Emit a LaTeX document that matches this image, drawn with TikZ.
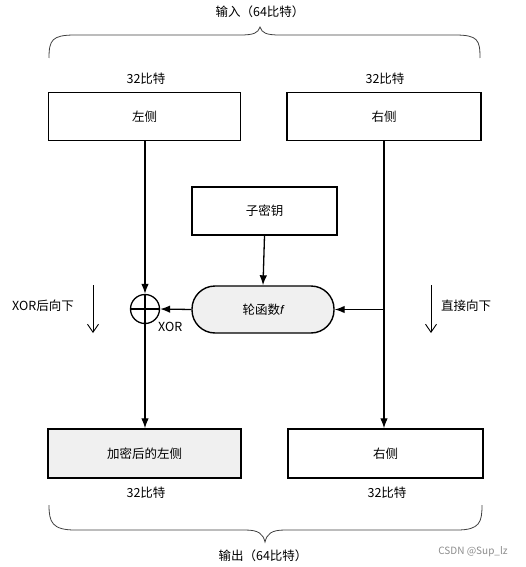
\documentclass[tikz,border=0pt]{standalone}
\usepackage{fontspec}
\setmainfont{Noto Sans CJK SC}
\newfontfamily\latfont{Liberation Sans}
\usetikzlibrary{arrows.meta}
\begin{document}
\begin{tikzpicture}[x=1pt,y=-1pt,
  font=\fontsize{12.5}{14}\selectfont,
  box/.style={draw,line width=1.4pt,inner sep=0pt},
  conn/.style={line width=1.3pt,-{Latex[length=10pt,width=7.5pt]}},
  plain/.style={line width=1.3pt},
  lbl/.style={inner sep=1pt},
  brace/.style={line width=0.8pt,draw=black!75},
  sidearrow/.style={line width=0.9pt,-{Straight Barb[length=8pt,width=11pt]}},
  tex/.style={fill=black!6}]
\useasboundingbox (0,0) rectangle (526,567);
% labels
\node[lbl] (inlbl) at (260,12) {输入（64比特）};
\node[lbl] (outlbl) at (263,556) {输出（64比特）};
\node[lbl] (b1) at (146,79) {32比特};
\node[lbl] (b2) at (385,79) {32比特};
\node[lbl] (b3) at (146,493) {32比特};
\node[lbl] (b4) at (387,493) {32比特};
% boxes
\node[box,minimum width=192pt,minimum height=48pt] (L) at (144.5,116.5) {左侧};
\node[box,minimum width=194pt,minimum height=48pt] (R) at (384,116.5) {右侧};
\node[box,minimum width=145pt,minimum height=48pt] (K) at (264.5,211) {子密钥};
\node[box,tex,minimum width=142pt,minimum height=47pt,rounded corners=23pt] (F) at (263,309.5) {轮函数{\latfont\itshape f}};
\node[box,tex,minimum width=193pt,minimum height=49pt] (EL) at (144.5,453.5) {加密后的左侧};
\node[box,minimum width=195pt,minimum height=49pt] (ER) at (385.5,453.5) {右侧};
% xor
\node[draw,circle,line width=1.3pt,minimum size=29pt,inner sep=0pt] (X) at (145,309) {};
\draw[plain] (X.north) -- (X.south);
\draw[plain] (X.west) -- (X.east);
\node[lbl,anchor=west] (xorlbl) at (157,327) {XOR};
% connectors
\draw[conn] (L.south -| X.north) -- (X.north);
\draw[conn] (X.south) -- (EL.north -| X.south);
\draw[conn] (R.south) -- (ER.north -| R.south);
\coordinate (J) at (R.south |- F.east);
\draw[conn] (J) -- (F.east);
\draw[conn] (F.west) -- (X.east);
\draw[conn] (K.south) -- (F.north);
% side notes
\node[lbl] (n1) at (43,306) {XOR后向下};
\node[lbl] (n2) at (466,306) {直接向下};
\coordinate (a1s) at (93,285);
\coordinate (a1e) at (93,333);
\coordinate (a2s) at (431,285);
\coordinate (a2e) at (431,333);
\draw[sidearrow] (a1s) -- (a1e);
\draw[sidearrow] (a2s) -- (a2e);
% braces
\draw[brace] (49,58) .. controls (49,40) and (52,35) .. (75,35) -- (240,35) .. controls (254,35) and (258,33) .. (260,27)
  .. controls (262,33) and (266,35) .. (280,35) -- (455,35) .. controls (478,35) and (480,40) .. (480,58);
\draw[brace] (49,505) .. controls (49,522) and (52,530) .. (75,530) -- (245,530) .. controls (259,530) and (263,534) .. (265,542)
  .. controls (267,534) and (271,530) .. (285,530) -- (457,530) .. controls (480,530) and (482,522) .. (482,505);
% watermark
\node[lbl,text=black!45,font=\fontsize{10}{12}\selectfont] (wm) at (473,552) {CSDN @Sup\_lz};
\end{tikzpicture}
\end{document}
